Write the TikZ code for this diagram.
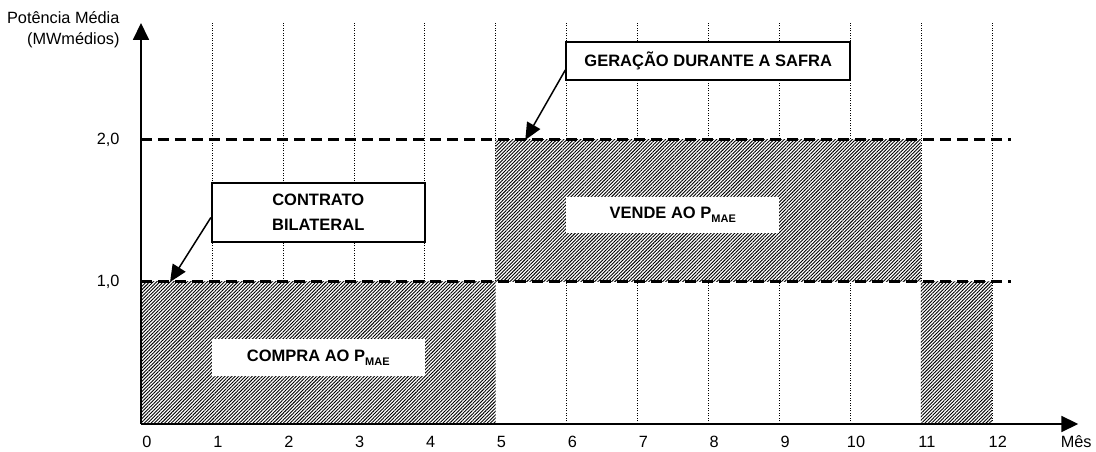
\documentclass[tikz,border=0pt]{standalone}
\usepackage{fontspec}
\setmainfont{Liberation Sans}
\usetikzlibrary{arrows.meta,patterns.meta}
\newcommand{\pmae}{P\raisebox{-3.5pt}{\fontsize{11}{11}\selectfont MAE}}

\begin{document}
\begin{tikzpicture}[x=70.9pt,y=142pt,font=\fontsize{16.3}{19}\selectfont,
		hatch/.style={preaction={fill=white},pattern={Lines[angle=45,distance=2.4pt,line width=0.9pt]}},
		level/.style={line width=3pt,dash pattern=on 11pt off 6pt},
		axis/.style={line width=1.8pt,-{Triangle[length=17pt,width=16pt]}},
		callout/.style={draw,line width=1.8pt,fill=white,align=center,font=\fontsize{16.5}{25}\selectfont\bfseries},
		tagbox/.style={fill=white,inner sep=0pt,font=\fontsize{16.5}{19}\selectfont\bfseries},
		pointer/.style={line width=1.5pt,-{Triangle[length=17pt,width=15pt]}}]
		\useasboundingbox (-141pt,-28pt) rectangle (955pt,424pt);
		\foreach \m in {1,...,12}
			\draw[dash pattern=on 1pt off 1.5pt] (\m,0) -- (\m,2.824);
		\fill[hatch] (0,0) rectangle (5,1);
		\fill[hatch] (5,1) rectangle (11,2);
		\fill[hatch] (11,0) rectangle (12,1);
		\draw[level] (0,1) -- (12.27,1);
		\draw[level] (0,2) -- (12.27,2);
		\draw[axis] (0,0) -- (13.22,0);
		\draw[axis] (0,0) -- (0,2.824);
		\foreach \m in {0,...,12}
			\node (t\m) at ([xshift=6pt,yshift=-18pt]\m,0) {\m};
		\node (mes) at ([yshift=-18pt]13.19,0) {Mês};
		\node[anchor=east] (y1) at ([xshift=-18pt]0,1) {1,0};
		\node[anchor=east] (y2) at ([xshift=-18pt]0,2) {2,0};
		\node[anchor=east,align=right,font=\fontsize{16.3}{21}\selectfont] (ytit) at (-18pt,394pt) {Potência Média\\(MWmédios)};
%		white tags over the hatching
		\node[tagbox,minimum width=213pt,minimum height=37pt] (compra) at (2.5,0.468) {COMPRA AO \pmae};
		\node[tagbox,minimum width=213pt,minimum height=36pt] (vende) at (7.5,1.472) {VENDE AO \pmae};
		\node[callout,minimum width=213pt,minimum height=59pt] (contrato) at (2.5,1.489) {CONTRATO\\BILATERAL};
		\node[callout,minimum width=284pt,minimum height=38pt] (gera) at (8,2.556) {GERAÇÃO DURANTE A SAFRA};
		\coordinate (c1) at (0.41,1);
		\coordinate (g2) at (5.42,2);
		\draw[pointer] ([yshift=-5pt]contrato.west) -- (c1);
		\draw[pointer] ([yshift=-9pt]gera.west) -- (g2);
	\end{tikzpicture}
\end{document}
